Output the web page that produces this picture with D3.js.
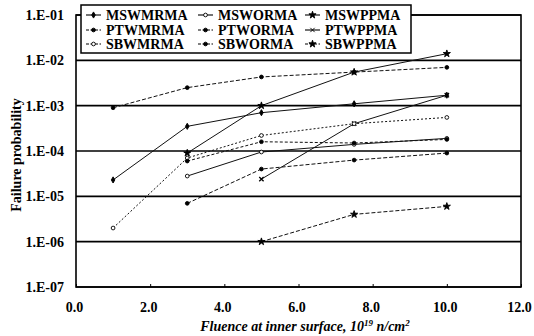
<!DOCTYPE html>
<html>
<head>
<meta charset="utf-8">
<script src="https://cdn.jsdelivr.net/npm/d3@7"></script>
<style>
  html, body { margin: 0; padding: 0; background: #fff; }
  svg { display: block; }
  text { font-family: "Liberation Serif", "Times New Roman", "DejaVu Serif", serif; font-weight: bold; fill: #000; }
</style>
</head>
<body>
<svg id="chart" width="534" height="336"></svg>
<script>
// Failure probability vs. fluence, [fluence (1e19 n/cm2), probability]
const MSWMRMA = [[1, 2.3e-5], [3, 3.5e-4], [5, 7e-4], [7.5, 1.1e-3], [10, 1.7e-3]];
const PTWMRMA = [[1, 9e-4], [3, 2.5e-3], [5, 4.3e-3], [7.5, 5.5e-3], [10, 7e-3]];
const SBWMRMA = [[1, 2e-6], [3, 7e-5], [5, 2.2e-4], [7.5, 4e-4], [10, 5.5e-4]];
const MSWORMA = [[3, 2.8e-5], [5, 9.5e-5], [7.5, 1.4e-4], [10, 1.9e-4]];
const PTWORMA = [[3, 7e-6], [5, 4e-5], [7.5, 6.3e-5], [10, 9e-5]];
const SBWORMA = [[3, 6e-5], [5, 1.6e-4], [7.5, 1.5e-4], [10, 1.8e-4]];
const MSWPPMA = [[3, 9e-5], [5, 1e-3], [7.5, 5.5e-3], [10, 1.4e-2]];
const PTWPPMA = [[5, 2.4e-5], [7.5, 4e-4], [10, 1.7e-3]];
const SBWPPMA = [[5, 1e-6], [7.5, 4e-6], [10, 6e-6]];

// legend order (row-major, three columns)
const seriesNames = ["MSWMRMA", "MSWORMA", "MSWPPMA",
                     "PTWMRMA", "PTWORMA", "PTWPPMA",
                     "SBWMRMA", "SBWORMA", "SBWPPMA"];
const seriesData = { MSWMRMA, MSWORMA, MSWPPMA, PTWMRMA, PTWORMA, PTWPPMA, SBWMRMA, SBWORMA, SBWPPMA };

const xTicks = [0, 2, 4, 6, 8, 10, 12];
const yTicks = [1e-7, 1e-6, 1e-5, 1e-4, 1e-3, 1e-2, 1e-1];
const yTickLabels = ["1.E-07", "1.E-06", "1.E-05", "1.E-04", "1.E-03", "1.E-02", "1.E-01"];

// drawing styles per series
const styles = {
  MSWMRMA: { dash: null, marker: "diamond", fill: true },
  PTWMRMA: { dash: "4,2", marker: "circle", fill: true },
  SBWMRMA: { dash: "2,2", marker: "circle", fill: false },
  MSWORMA: { dash: null, marker: "circle", fill: false },
  PTWORMA: { dash: "4,2", marker: "circle", fill: true },
  SBWORMA: { dash: "3,2", marker: "circle", fill: true },
  MSWPPMA: { dash: null, marker: "star", fill: true },
  PTWPPMA: { dash: null, marker: "times", fill: true },
  SBWPPMA: { dash: "4,2", marker: "star", fill: true }
};

const svg = d3.select("#chart");
const plotLeft = 76, plotRight = 521, plotTop = 15, plotBottom = 287;

const x = d3.scaleLinear().domain([0, 12]).range([plotLeft, plotRight]);
const y = d3.scaleLog().domain([1e-7, 1e-1]).range([plotBottom, plotTop]);

// horizontal gridlines
svg.append("g").selectAll("line")
  .data(yTicks)
  .join("line")
  .attr("x1", plotLeft).attr("x2", plotRight)
  .attr("y1", d => y(d)).attr("y2", d => y(d))
  .attr("stroke", "#000").attr("stroke-width", 1.6);

// plot frame
svg.append("rect")
  .attr("x", plotLeft).attr("y", plotTop)
  .attr("width", plotRight - plotLeft).attr("height", plotBottom - plotTop)
  .attr("fill", "none").attr("stroke", "#000").attr("stroke-width", 1.6);

// axes
const yAxis = svg.append("g")
  .attr("transform", `translate(${plotLeft},0)`)
  .call(d3.axisLeft(y).tickValues(yTicks)
    .tickFormat((d, i) => yTickLabels[i]).tickSize(0).tickPadding(12));
yAxis.attr("font-family", null);
yAxis.select(".domain").remove();
yAxis.selectAll("text").style("font-size", "14px");

const xAxis = svg.append("g")
  .attr("transform", `translate(0,${plotBottom})`)
  .call(d3.axisBottom(x).tickValues(xTicks)
    .tickFormat(d3.format(".1f")).tickSizeInner(-3).tickSizeOuter(0).tickPadding(15));
xAxis.attr("font-family", null);
xAxis.select(".domain").remove();
xAxis.selectAll("line").attr("stroke", "#000");
xAxis.selectAll("text").style("font-size", "14px").attr("dx", -2);

// series lines
const line = d3.line().x(d => x(d[0])).y(d => y(d[1]));

function markerPath(kind, k) {
  const sym = {
    circle: d3.symbol(d3.symbolCircle, 11 * k),
    diamond: d3.symbol(d3.symbolDiamond, 11 * k),
    star: d3.symbol(d3.symbolStar, 16 * k),
    times: d3.symbol(d3.symbolTimes || d3.symbolCross, 14 * k)
  };
  return sym[kind]();
}

const gSeries = svg.append("g");
seriesNames.forEach(name => {
  const st = styles[name];
  const data = seriesData[name];
  gSeries.append("path")
    .datum(data)
    .attr("d", line)
    .attr("fill", "none")
    .attr("stroke", "#111")
    .attr("stroke-width", 1)
    .attr("stroke-dasharray", st.dash);
  gSeries.append("g").selectAll("path")
    .data(data)
    .join("path")
    .attr("transform", d => `translate(${x(d[0])},${y(d[1])})`)
    .attr("d", markerPath(st.marker, 1))
    .attr("fill", st.fill ? "#000" : "#fff")
    .attr("stroke", "#000")
    .attr("stroke-width", st.marker === "times" ? 1.3 : 0.9);
});

// legend
const lg = svg.append("g");
lg.append("rect")
  .attr("x", 81).attr("y", 5).attr("width", 330).attr("height", 48)
  .attr("fill", "#fff").attr("stroke", "#000").attr("stroke-width", 1.5);
const colX = [86, 198, 305];
const rowY = [15, 30, 44];
seriesNames.forEach((name, i) => {
  const st = styles[name];
  const cx = colX[i % 3], cy = rowY[Math.floor(i / 3)];
  lg.append("line")
    .attr("x1", cx).attr("x2", cx + 15).attr("y1", cy).attr("y2", cy)
    .attr("stroke", "#000").attr("stroke-width", 1.1)
    .attr("stroke-dasharray", st.dash ? "3,1.5" : null);
  lg.append("path")
    .attr("transform", `translate(${cx + 7.5},${cy})`)
    .attr("d", markerPath(st.marker, 1))
    .attr("fill", st.fill ? "#000" : "#fff")
    .attr("stroke", "#000").attr("stroke-width", 0.9);
  lg.append("text")
    .attr("x", cx + 20).attr("y", cy + 5)
    .style("font-size", "14px")
    .text(name);
});

// axis titles
svg.append("text")
  .attr("transform", `translate(21,155) rotate(-90)`)
  .attr("text-anchor", "middle")
  .style("font-size", "14px")
  .text("Failure probability");

const xt = svg.append("text")
  .attr("x", 305).attr("y", 331)
  .attr("text-anchor", "middle")
  .style("font-size", "14px").style("font-style", "italic");
xt.append("tspan").text("Fluence at inner surface, 10");
xt.append("tspan").attr("dy", -5).style("font-size", "9px").text("19");
xt.append("tspan").attr("dy", 5).text(" n/cm");
xt.append("tspan").attr("dy", -5).style("font-size", "9px").text("2");
</script>
</body>
</html>
